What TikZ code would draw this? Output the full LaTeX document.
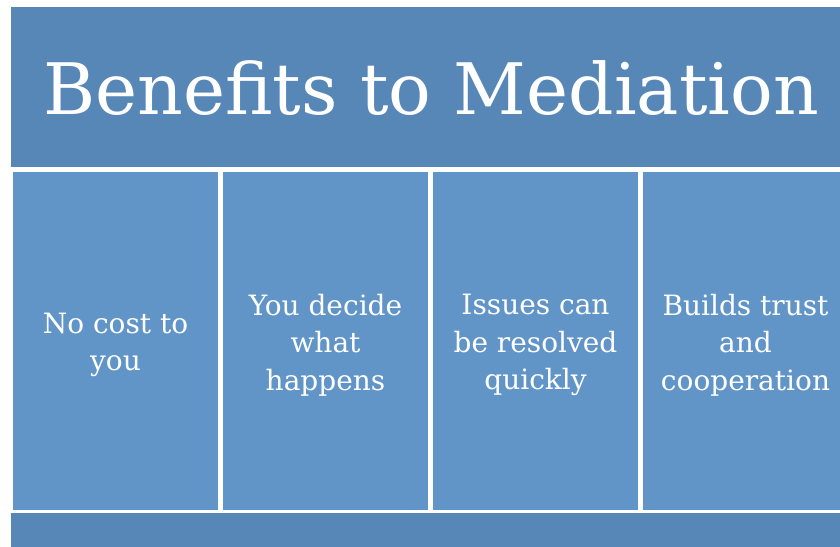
\documentclass[tikz,border=0pt]{standalone}
\usepackage{fontspec}
\setmainfont{DejaVu Serif}
\usepackage{tikz}

\definecolor{bandblue}{RGB}{86,135,182}
\definecolor{boxblue}{RGB}{97,149,200}

\tikzset{
  band/.style={fill=bandblue, draw=none, inner sep=0pt},
  benefit/.style={fill=boxblue, draw=none, inner sep=0pt,
    minimum width=205pt, minimum height=338pt},
  benefittext/.style={align=center, text=white,
    font=\fontsize{28}{37.5}\selectfont}
}

\begin{document}
\begin{tikzpicture}[x=1pt, y=-1pt]
  \useasboundingbox (0,0) rectangle (840,546);
  \clip (0,0) rectangle (840,546);

  % header and footer bands
  \node[band, minimum width=840pt, minimum height=160pt] (head) at (431,87) {};
  \node[text=white, font=\fontsize{71}{85}\selectfont] (title) at (431,88) {Benefits to Mediation};
  \node[band, minimum width=840pt, minimum height=40pt] (foot) at (431,533) {};

  % the four benefits
  \node[benefit] (cost)   at (115.5,341) {};
  \node[benefit] (decide) at (325.5,341) {};
  \node[benefit] (quick)  at (535.5,341) {};
  \node[benefit] (trust)  at (745.5,341) {};

  \node[benefittext] (costtxt)   at ([yshift=-4pt]cost.center)   {No cost to\\you};
  \node[benefittext] (decidetxt) at ([yshift=-4pt]decide.center) {You decide\\what\\happens};
  \node[benefittext] (quicktxt)  at ([yshift=-4pt]quick.center)  {Issues can\\be resolved\\quickly};
  \node[benefittext] (trusttxt)  at ([yshift=-4pt]trust.center)  {Builds trust\\and\\cooperation};

\end{tikzpicture}
\end{document}
